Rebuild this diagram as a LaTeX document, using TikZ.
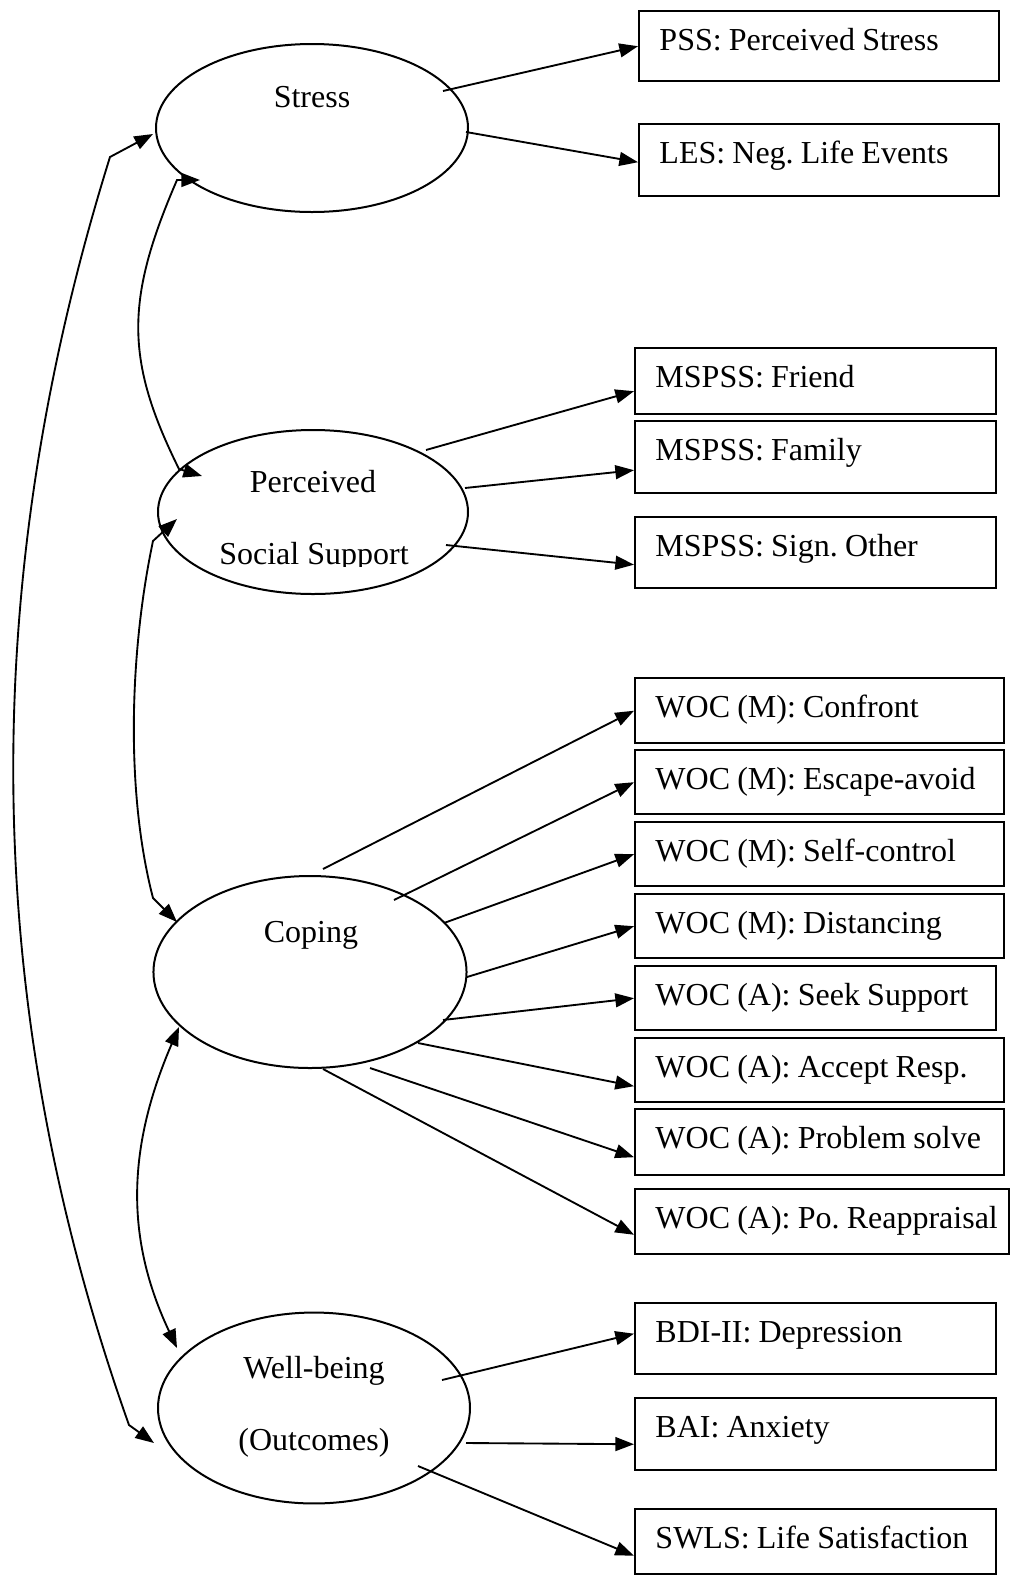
\documentclass[tikz,border=0pt]{standalone}
\usepackage{fontspec}
\setmainfont{Liberation Serif}
\usetikzlibrary{shapes.geometric}
\usetikzlibrary{arrows.meta}
\usetikzlibrary{calc}

\begin{document}
\begin{tikzpicture}[x=0.375pt, y=-0.375pt,
    font=\fontsize{12pt}{14pt}\selectfont\frenchspacing,
    >={Triangle[length=7pt,width=5.2pt]},
    construct/.style={draw, ellipse, line width=0.75pt, inner sep=0pt},
    measure/.style={draw, line width=0.9pt, anchor=north west, inner xsep=0pt, inner ysep=0pt,
        align=left, text height=14.6pt, execute at begin node={\hyphenpenalty=10000\spaceskip=2.7pt\hspace*{7.6pt}}},
    loading/.style={->, line width=0.7pt},
    covar/.style={<->, line width=0.7pt}]
    \useasboundingbox (0,0) rectangle (1010,1575);

    % latent constructs
    \node[construct, minimum width=117pt, minimum height=63pt](stress) at (312,128) {};
    \node[construct, minimum width=116.25pt, minimum height=61.5pt](support) at (313,512) {};
    \node[construct, minimum width=117.4pt, minimum height=72pt](coping) at (310,972) {};
    \node[construct, minimum width=117pt, minimum height=71.6pt](wellbeing) at (314,1408) {};

    \node[anchor=base](stresslbl) at (312,107) {Stress};
    \node[anchor=base](perclbl) at (313,492) {Perceived};
    \begin{scope}
        \clip (150,420) rectangle (480,566);
        \node[anchor=base](sslbl) at (314,564) {Social Support};
    \end{scope}
    \node[anchor=base](copinglbl) at (311,942) {Coping};
    \node[anchor=base](wblbl) at (314,1378) {Well-being};
    \node[anchor=base](outlbl) at (314,1450) {(Outcomes)};

    % indicators
    \node[measure, text width=135pt, text depth=11.65pt](pss) at (638,10) {PSS: Perceived Stress};
    \node[measure, text width=135pt, text depth=12.4pt](les) at (638,123) {LES: Neg. Life Events};

    \node[measure, text width=135.4pt, text depth=10.15pt](friend) at (634,347) {MSPSS: Friend};
    \node[measure, text width=135.4pt, text depth=12.4pt](family) at (634,420) {MSPSS: Family};
    \node[measure, text width=135.4pt, text depth=12pt](signother) at (634,516) {MSPSS: Sign. Other};

    \node[measure, text width=138.4pt, text depth=9.8pt](confront) at (634,677) {WOC (M): Confront};
    \node[measure, text width=138.4pt, text depth=9.4pt](escape) at (634,749) {WOC (M): Escape-avoid};
    \node[measure, text width=138.4pt, text depth=9.4pt](selfctrl) at (634,821) {WOC (M): Self-control};
    \node[measure, text width=138.4pt, text depth=9.4pt](distance) at (634,893) {WOC (M): Distancing};
    \node[measure, text width=135.4pt, text depth=9.4pt](seeksup) at (634,965) {WOC (A): Seek Support};
    \node[measure, text width=138.4pt, text depth=9.4pt](accept) at (634,1037) {WOC (A): Accept Resp.};
    \node[measure, text width=138.4pt, text depth=10.15pt](probsolve) at (634,1108) {WOC (A): Problem solve};
    \node[measure, text width=140.25pt, text depth=9.8pt](reappr) at (634,1188) {WOC (A): Po. Reappraisal};

    \node[measure, text width=135.4pt, text depth=12pt](bdi) at (634,1302) {BDI-II: Depression};
    \node[measure, text width=135.4pt, text depth=12.4pt](bai) at (634,1397) {BAI: Anxiety};
    \node[measure, text width=135.4pt, text depth=9.8pt](swls) at (634,1508) {SWLS: Life Satisfaction};

    % loadings
    \draw[loading] ($(stress)+(131,-37)$) -- (pss.west);
    \draw[loading] ($(stress)+(154,4)$) -- ($(les.west)+(0,2)$);

    \draw[loading] ($(support)+(113,-62)$) -- ($(friend.west)+(0,10)$);
    \draw[loading] ($(support)+(152,-24)$) -- ($(family.west)+(0,13)$);
    \draw[loading] ($(support)+(133,33)$) -- ($(signother.west)+(0,12)$);

    \draw[loading] ($(coping)+(13,-103)$) -- (confront.west);
    \draw[loading] ($(coping)+(84,-72)$) -- (escape.west);
    \draw[loading] ($(coping)+(134,-49)$) -- (selfctrl.west);
    \draw[loading] ($(coping)+(157,5)$) -- (distance.west);
    \draw[loading] ($(coping)+(133,48)$) -- (seeksup.west);
    \draw[loading] ($(coping)+(108,71)$) -- ($(accept.west)+(0,16)$);
    \draw[loading] ($(coping)+(60,96)$) -- ($(probsolve.west)+(0,15)$);
    \draw[loading] ($(coping)+(13,97)$) -- ($(reappr.west)+(0,13)$);

    \draw[loading] ($(wellbeing)+(128,-28)$) -- ($(bdi.west)+(0,-5)$);
    \draw[loading] ($(wellbeing)+(152,35)$) -- ($(bai.west)+(0,10)$);
    \draw[loading] ($(wellbeing)+(104,58)$) -- ($(swls.west)+(0,14)$);

    % covariances
    \coordinate (a1) at (110,157);
    \coordinate (a2) at (129,1425);
    \draw[covar] ($(stress)+(-159,6)$) -- (a1) .. controls (-22,580) and (-22,1000) .. (a2) -- ($(wellbeing)+(-160,35)$);

    \coordinate (b1) at (177,180);
    \coordinate (b2) at (179,469);
    \draw[covar] ($(stress)+(-112,52)$) -- (b1) .. controls (125,300) and (125,360) .. (b2) -- ($(support)+(-111,-36)$);

    \coordinate (c1) at (153,541);
    \coordinate (c2) at (153,898);
    \draw[covar] ($(support)+(-136,7)$) -- (c1) .. controls (130,650) and (125,790) .. (c2) -- ($(coping)+(-133,-50)$);

    \draw[covar] ($(coping)+(-131,55)$) .. controls (126,1150) and (126,1240) .. ($(wellbeing)+(-137,-60)$);
\end{tikzpicture}
\end{document}
